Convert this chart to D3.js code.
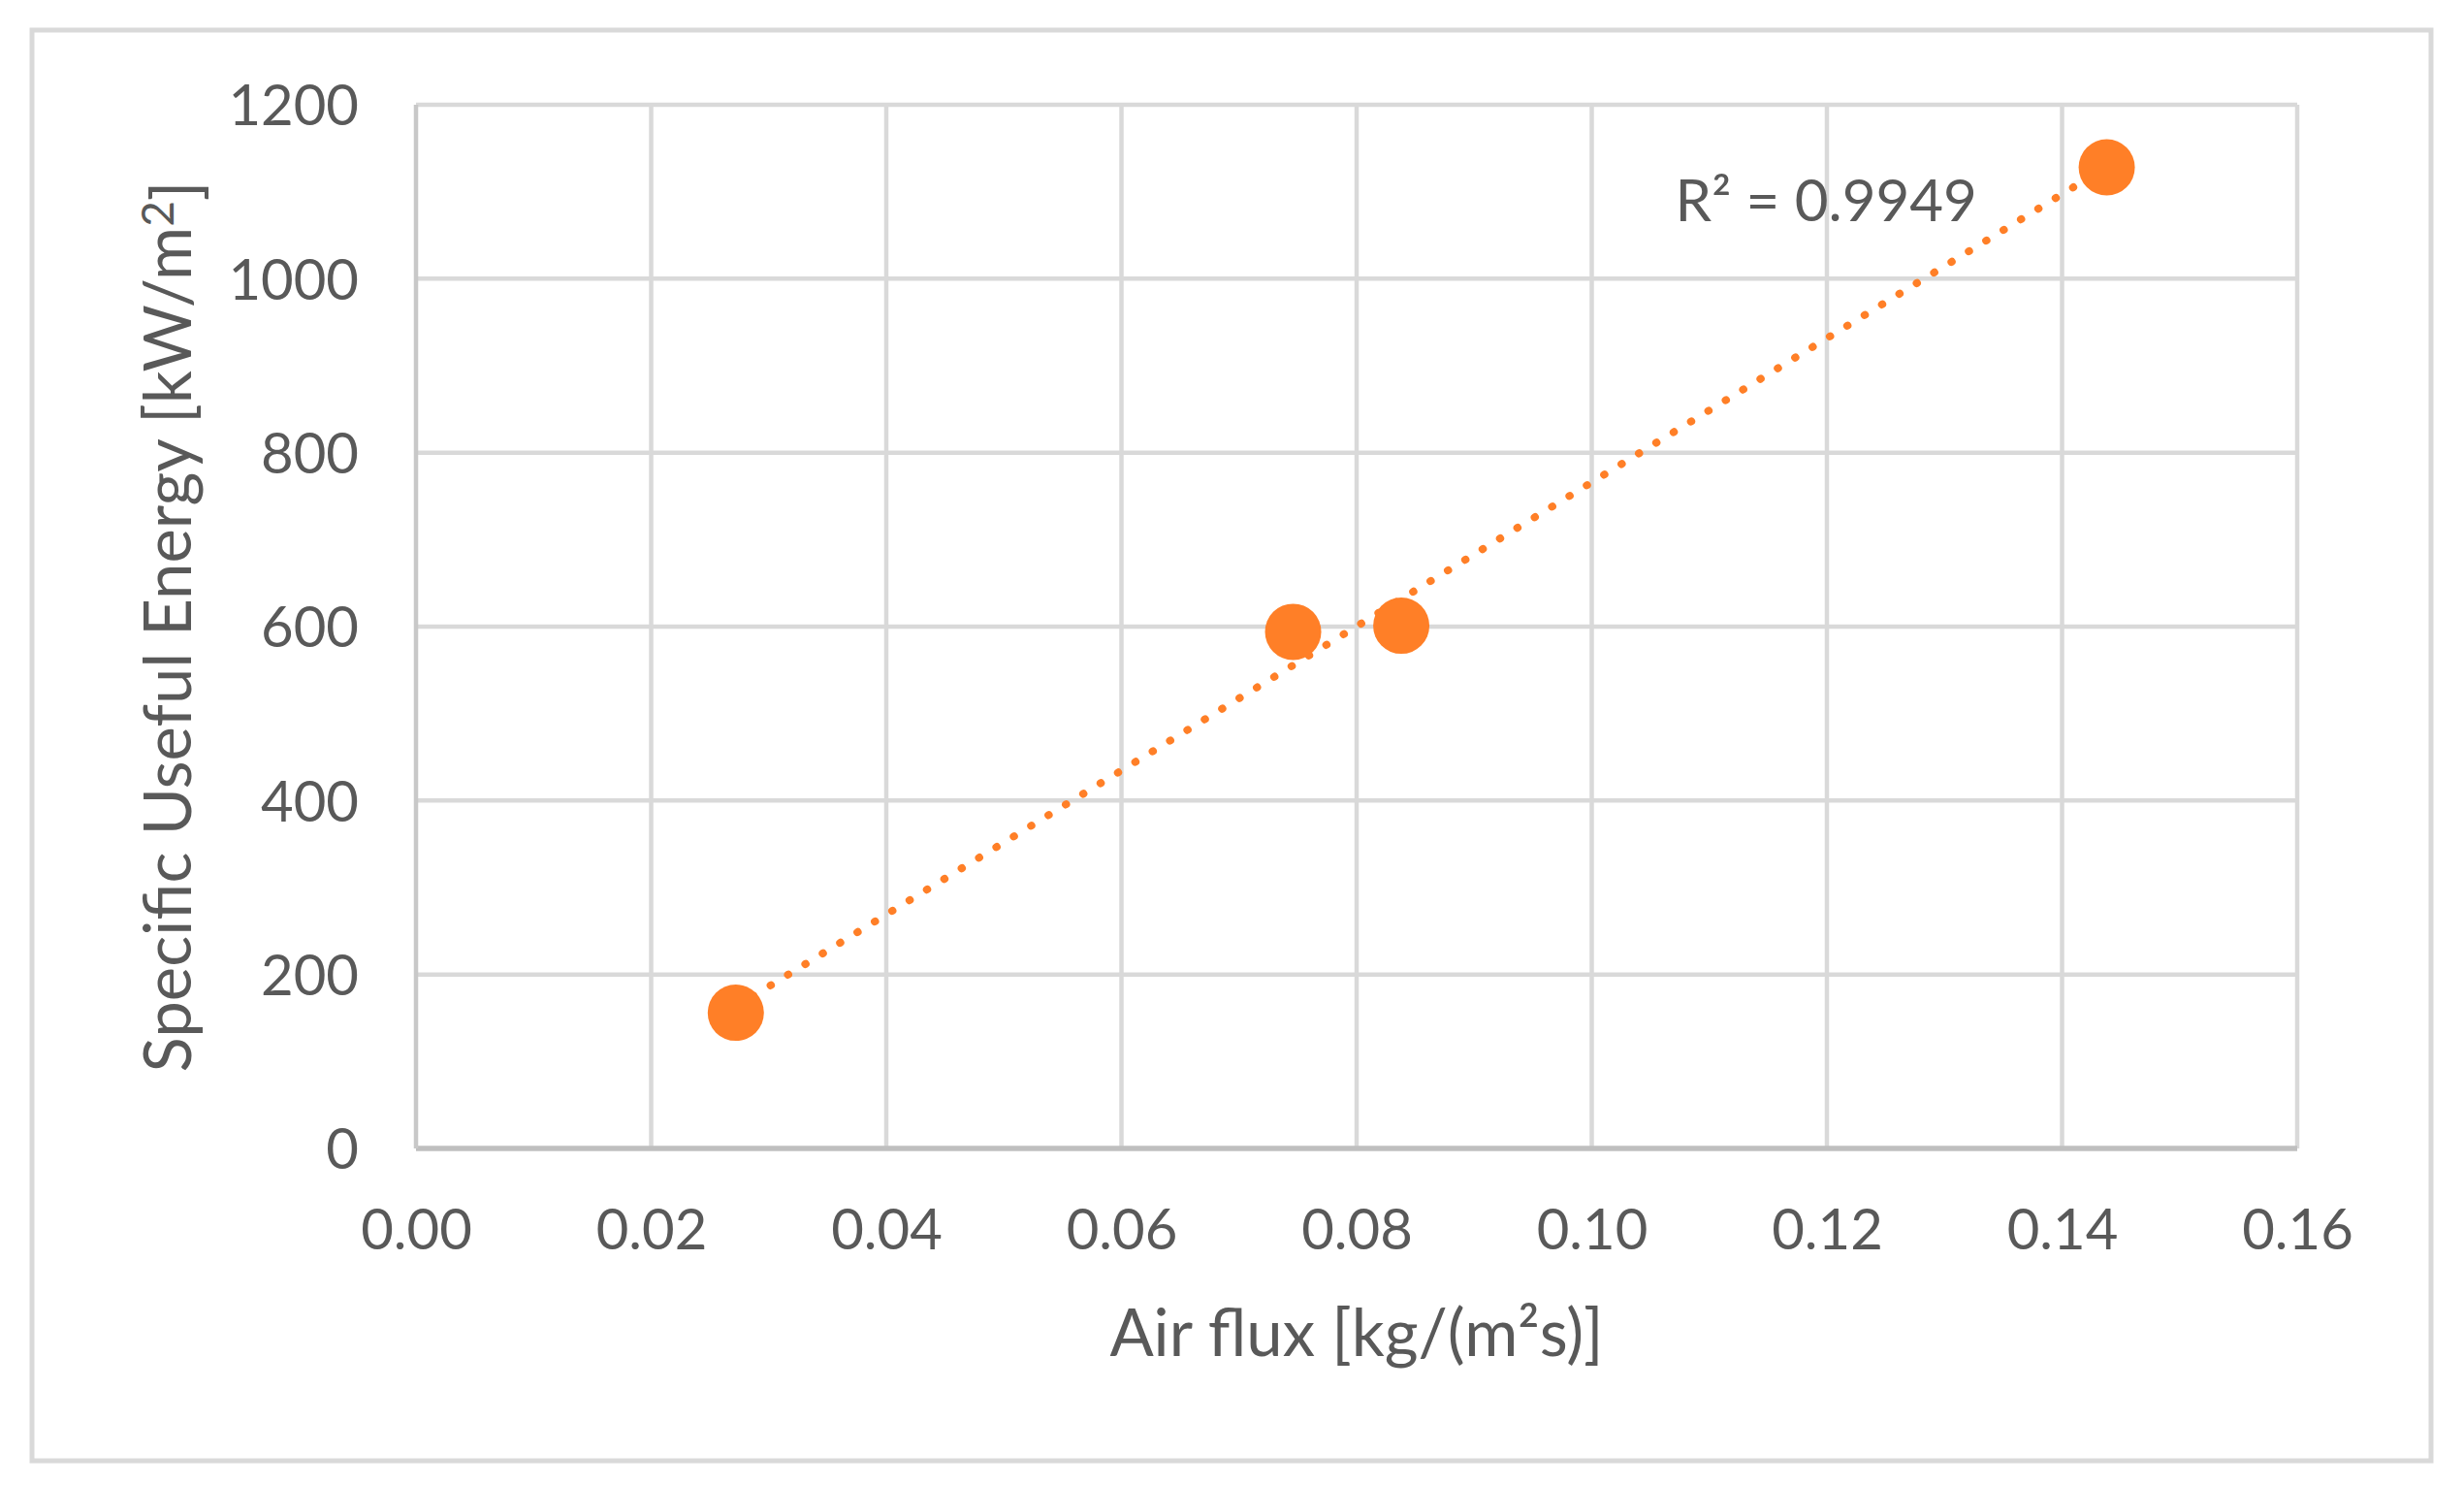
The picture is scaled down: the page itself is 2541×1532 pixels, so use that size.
<!DOCTYPE html>
<html>
<head>
<meta charset="utf-8">
<script src="https://cdn.jsdelivr.net/npm/d3@7"></script>
<style>
  body { margin: 0; background: #fff; }
  text { font-family: Lato, "Open Sans", sans-serif; fill: #595959; }
</style>
</head>
<body>
<svg id="chart"></svg>
<script>
// values
var airFlux = [0.0272, 0.0746, 0.0838, 0.1438];   // kg/(m2 s)
var energy = [156, 594, 601, 1128];              // kW/m2
var xTicks = [0, 0.02, 0.04, 0.06, 0.08, 0.10, 0.12, 0.14, 0.16];
var yTicks = [0, 200, 400, 600, 800, 1000, 1200];
var r2Text = 'R\u00B2 = 0.9949';

var W = 2541, H = 1532;
var margins = {left: 429, right: 172, top: 108, bottom: 348},
  w = W - margins.left - margins.right,
  h = H - margins.top - margins.bottom;
var orange = '#FF7F27';

var root = d3.select('#chart')
  .attr('width', W)
  .attr('height', H);

// outer chart border
root.append('rect')
  .attr('x', 33).attr('y', 31)
  .attr('width', 2474).attr('height', 1475)
  .attr('fill', '#fff')
  .attr('stroke', '#d9d9d9')
  .attr('stroke-width', 5);

var svg = root.append('g')
  .attr('transform', 'translate(' + margins.left + ',' + margins.top + ')');

var xScale = d3.scaleLinear().domain([0, 0.16]).range([0, w]);
var yScale = d3.scaleLinear().domain([0, 1200]).range([h, 0]);

// gridlines
svg.append('g')
  .attr('class', 'grid')
  .selectAll('line.v')
  .data(xTicks.slice(1))
  .enter().append('line')
  .attr('x1', function(d) {return xScale(d);})
  .attr('x2', function(d) {return xScale(d);})
  .attr('y1', 0).attr('y2', h)
  .attr('stroke', '#d9d9d9').attr('stroke-width', 4.5);
svg.select('.grid')
  .selectAll('line.h')
  .data(yTicks.slice(1))
  .enter().append('line')
  .attr('x1', 0).attr('x2', w)
  .attr('y1', function(d) {return yScale(d);})
  .attr('y2', function(d) {return yScale(d);})
  .attr('stroke', '#d9d9d9').attr('stroke-width', 4.5);

// axis lines
svg.append('line')
  .attr('x1', 0).attr('x2', w).attr('y1', h).attr('y2', h)
  .attr('stroke', '#bfbfbf').attr('stroke-width', 5.5);
svg.append('line')
  .attr('x1', 0).attr('x2', 0).attr('y1', 0).attr('y2', h)
  .attr('stroke', '#c8c8c8').attr('stroke-width', 4.5);

// tick labels
var xAxis = d3.axisBottom(xScale)
  .tickValues(xTicks)
  .tickSize(0)
  .tickFormat(d3.format('.2f'));
var gx = svg.append('g')
  .attr('class', 'axis x-axis')
  .attr('transform', 'translate(0,' + h + ')')
  .call(xAxis);
gx.select('.domain').remove();
gx.selectAll('text')
  .attr('y', 104).attr('dy', null)
  .style('font-size', '58px');

var yAxis = d3.axisLeft(yScale)
  .tickValues(yTicks)
  .tickSize(0)
  .tickPadding(59)
  .tickFormat(d3.format('d'));
var gy = svg.append('g')
  .attr('class', 'axis y-axis')
  .call(yAxis);
gy.select('.domain').remove();
gy.selectAll('text')
  .attr('dy', '0.36em')
  .style('font-size', '58px');

// linear trendline (least squares over the points)
var mx = d3.mean(airFlux), my = d3.mean(energy);
var sxy = d3.sum(airFlux, function(x, i) {return (x - mx) * (energy[i] - my);});
var sxx = d3.sum(airFlux, function(x) {return (x - mx) * (x - mx);});
var slope = sxy / sxx, icpt = my - slope * mx;
var xEnds = d3.extent(airFlux);
var trend = xEnds.map(function(x) {return {x: x, y: icpt + slope * x};});

svg.append('path')
  .datum(trend)
  .attr('d', d3.line()
    .x(function(d) {return xScale(d.x);})
    .y(function(d) {return yScale(d.y);}))
  .attr('fill', 'none')
  .attr('stroke', orange)
  .attr('stroke-width', 8)
  .attr('stroke-linecap', 'round')
  .attr('stroke-dasharray', '0.5,20.5');

// data points
svg.append('g')
  .selectAll('circle')
  .data(airFlux)
  .enter().append('circle')
  .attr('cx', function(d) {return xScale(d);})
  .attr('cy', function(d, i) {return yScale(energy[i]);})
  .attr('r', 29)
  .attr('fill', orange);

// R² label
svg.append('text')
  .attr('x', xScale(0.1071))
  .attr('y', yScale(1066))
  .style('font-size', '60px')
  .text(r2Text);

// axis titles
root.append('text')
  .attr('x', margins.left + w / 2)
  .attr('y', 1398)
  .attr('text-anchor', 'middle')
  .style('font-size', '67px')
  .text('Air flux [kg/(m\u00B2s)]');

var yt = root.append('text')
  .attr('transform', 'translate(197,' + (margins.top + h / 2) + ') rotate(-90)')
  .attr('text-anchor', 'middle')
  .style('font-size', '67px');
yt.append('tspan').text('Specific Useful Energy [kW/m');
yt.append('tspan').attr('dy', '-0.4em').style('font-size', '46px').text('2');
yt.append('tspan').attr('dy', '0.4em').text(']');
</script>
</body>
</html>
